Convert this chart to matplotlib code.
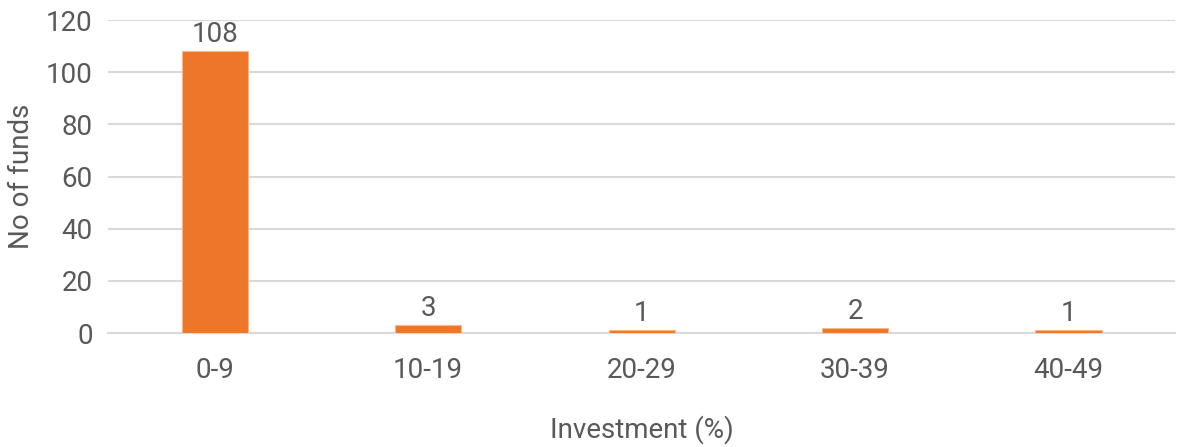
import matplotlib.pyplot as plt

# Data
categories = ["0-9", "10-19", "20-29", "30-39", "40-49"]
funds = [108, 3, 1, 2, 1]
y_ticks = [0, 20, 40, 60, 80, 100, 120]

plt.rcParams["font.family"] = ["Roboto", "DejaVu Sans"]

TEXT = "#595959"
ORANGE = "#EE7628"

fig = plt.figure(figsize=(11.78, 4.47), dpi=100)
ax = fig.add_axes([0.0917, 0.255, 0.906, 0.700])

x = list(range(len(categories)))
ax.bar(x, funds, width=0.31, color=ORANGE, edgecolor="#F6B78A", linewidth=0.8, zorder=3)
for xi, v in zip(x, funds):
    ax.text(xi, v + 1.2, str(v), ha="center", va="bottom", fontsize=20, color=TEXT)

ax.set_xlim(-0.5, len(categories) - 0.5)
ax.set_ylim(0, 120)
ax.set_yticks(y_ticks)
ax.set_xticks(x)
ax.set_xticklabels(categories)
ax.tick_params(axis="both", length=0, labelsize=20, labelcolor=TEXT)
ax.tick_params(axis="y", pad=11)
ax.tick_params(axis="x", pad=17)
ax.grid(axis="y", color="#D9D9D9", linewidth=1.5, zorder=0)
for s in ["top", "right", "left"]:
    ax.spines[s].set_visible(False)
ax.spines["bottom"].set_color("#D9D9D9")
ax.spines["bottom"].set_linewidth(1.5)

ax.set_ylabel("No of funds", fontsize=20, color=TEXT, va="center", ha="center")
ax.set_xlabel("Investment (%)", fontsize=20, color=TEXT, va="center", ha="center")
ax.yaxis.set_label_coords(-0.081, 0.5)
ax.xaxis.set_label_coords(0.5, -0.31)

fig.savefig("out.png", dpi=100)
